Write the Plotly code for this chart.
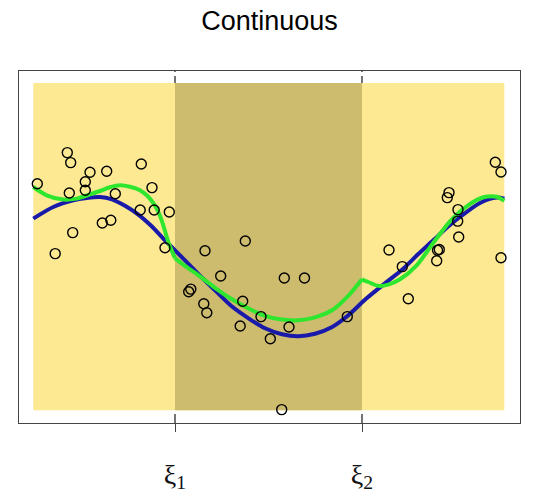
import plotly.graph_objects as go

# ---- data (arbitrary units; x in [0, 471], y in [0, 327]) ----
knots = [141.7, 328.7]
knot_labels = ["ξ<sub>1</sub>", "ξ<sub>2</sub>"]
x_domain = [0, 471]
y_domain = [0, 327.3]

pts_x = [4, 34, 37.4, 56.7, 73.4, 108, 52, 52, 36, 82, 118.7, 106.9, 120.9, 136, 77.5, 69, 39.4, 21.9, 131.7,
         212, 171.7, 187.4, 251, 271.2, 157.5, 155.4, 170.5, 173.5, 209.4, 227.7, 206.9, 255.7, 237, 314, 248.4,
         462, 467.7, 415.7, 414, 424.7, 424.4, 425.4, 355.7, 406, 404.2, 403.4, 467.7, 369, 375]
pts_y = [226.5, 257.7, 247.7, 238, 239, 246.3, 228.5, 220, 217.3, 216.5, 222.7, 200.3, 200.3, 198.3, 190, 187.3, 177.7, 156.7, 162.5,
         169.3, 159.5, 134.3, 132.3, 132.3, 121.2, 118.5, 106.5, 97.5, 109, 93.7, 84.3, 83.3, 71.5, 93.7, 0.7,
         248, 238.3, 217.7, 212.7, 200.7, 189.2, 173.3, 160.3, 160.8, 160, 149.5, 152.5, 143.7, 111.5]

blue_x = [0, 20, 40, 53.4, 66.7, 78.7, 91.7, 104.7, 118.4, 130, 140, 150, 163.4, 181.7, 198.4, 216.7, 231.7,
          248.7, 265, 281.7, 298.4, 315, 332.7, 351.7, 368.7, 384.7, 400, 413.4, 426.7, 446.7, 463.4, 471]
blue_y = [191.7, 203.3, 210, 212.3, 213.3, 211, 204.5, 196, 184, 171.7, 161.7, 151.7, 138, 120, 104, 91, 82,
          76, 74, 76.5, 83, 95, 111.5, 127, 140.5, 156, 170, 182.5, 193.3, 207.3, 212.7, 211.5]

green1_x = [0, 13.4, 30, 43.4, 56.7, 66.7, 76.7, 86.7, 96.7, 106.7, 113.4, 118.7, 123.4, 126.7, 130, 135, 140, 141.7]
green1_y = [223.3, 215, 210.7, 211.7, 216, 219.3, 223, 225, 223.5, 220, 215, 209, 201.7, 194.5, 185, 168.3, 156, 152]
green2_x = [141.7, 151.7, 164.7, 181.7, 198.7, 216.7, 231.7, 246.7, 264.7, 281.7, 298.7, 315, 328.7]
green2_y = [152, 144.5, 135.5, 122.5, 111, 101, 94.5, 91, 90, 93, 100, 114.5, 131]
green3_x = [328.7, 335, 345, 355, 366.7, 383.4, 399.7, 416.7, 433.4, 450, 463.4, 471]
green3_y = [131, 128.3, 124.5, 125.7, 131, 145, 167, 189, 204, 213, 213.5, 209.5]

LIGHT = "#FDE991"
DARK = "#CDBB6E"
BLUE = "#1919AA"
GREEN = "#2EE62E"

# the page body has an 8px default margin: the figure is sized/offset to compensate
W, H = 552, 486

fig = go.Figure()

# background regions
fig.add_shape(type="rect", x0=x_domain[0], x1=x_domain[1], y0=y_domain[0], y1=y_domain[1],
              fillcolor=LIGHT, line_width=0, layer="below")
fig.add_shape(type="rect", x0=knots[0], x1=knots[1], y0=y_domain[0], y1=y_domain[1],
              fillcolor=DARK, line_width=0, layer="below")
for k in knots:
    fig.add_shape(type="line", x0=k, x1=k, y0=0, y1=1, xref="x", yref="paper",
                  line=dict(color="#2b2b2b", width=1.3, dash="9px,4px"), layer="below")

fig.add_trace(go.Scatter(x=blue_x, y=blue_y, mode="lines", line=dict(color=BLUE, width=4, shape="spline", smoothing=0.8),
                         hoverinfo="skip", showlegend=False))
for gx, gy in [(green1_x, green1_y), (green2_x, green2_y), (green3_x, green3_y)]:
    fig.add_trace(go.Scatter(x=gx, y=gy, mode="lines", line=dict(color=GREEN, width=4, shape="spline", smoothing=0.8),
                             hoverinfo="skip", showlegend=False))

fig.add_trace(go.Scatter(x=pts_x, y=pts_y, mode="markers",
                         marker=dict(symbol="circle-open", size=10, color="black", line=dict(width=1.4, color="black")),
                         showlegend=False))

fig.update_layout(
    width=W, height=H,
    margin=dict(l=11, r=40, t=63, b=71),
    paper_bgcolor="white", plot_bgcolor="white",
    title=dict(text="Continuous", x=0.5, xref="paper", xanchor="center", y=1 - 13 / H, yanchor="middle",
               font=dict(family="Liberation Sans, Arial", size=27, color="black")),
    showlegend=False,
)
fig.update_xaxes(range=[-14.3, 486.7], showgrid=False, zeroline=False, showline=True, mirror=True,
                 linecolor="#444", linewidth=1, ticks="outside", ticklen=8, tickcolor="#444", tickwidth=1,
                 tickvals=knots, ticktext=knot_labels, ticklabelstandoff=18,
                 tickfont=dict(family="Liberation Serif, Times New Roman", size=28, color="#111"),
                 automargin=False)
fig.update_yaxes(range=[-12.7, 339.3], showgrid=False, zeroline=False, showline=True, mirror=True,
                 linecolor="#444", linewidth=1, showticklabels=False, ticks="", automargin=False)

fig.write_html("out.html")
